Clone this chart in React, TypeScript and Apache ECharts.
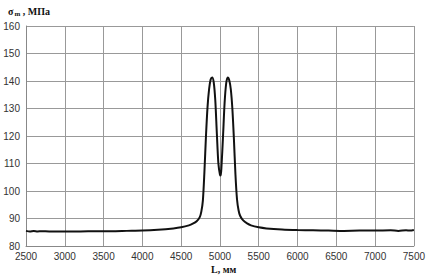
import React, { useEffect, useRef } from "react";
import * as echarts from "echarts";

const positions = [
  2500, 2550, 2600, 2650, 2700, 2800, 3000, 3200, 3400, 3600, 3800, 4000, 4200, 4400, 4500, 4600,
  4650, 4700, 4740, 4760, 4780, 4800, 4820, 4840, 4860, 4880, 4900, 4920, 4940, 4960, 4980,
  5000, 5010, 5020, 5040, 5060, 5080, 5100, 5120, 5140, 5160, 5180, 5200, 5220, 5240, 5260,
  5300, 5350, 5400, 5500, 5600, 5800, 6000, 6200, 6400, 6600, 6800, 7000, 7200, 7300, 7400, 7450, 7500,
];
const stress = [
  85.5, 85.3, 85.5, 85.3, 85.4, 85.3, 85.3, 85.3, 85.4, 85.4, 85.5, 85.6, 85.9, 86.4, 86.8, 87.5,
  88.1, 89.0, 90.5, 92.5, 96.5, 107, 120, 130.5, 137, 140.5, 141.3, 139.5, 133, 121, 110,
  106, 105.6, 109, 120, 132, 139, 141.3, 140.3, 137, 130, 119, 106, 97, 93, 91,
  89.3, 88.2, 87.5, 86.8, 86.4, 86.0, 85.8, 85.7, 85.6, 85.5, 85.6, 85.6, 85.7, 85.5, 85.7, 85.6, 85.8,
];
const xTicks = { min: 2500, max: 7500, interval: 500 };
const yTicks = { min: 80, max: 160, interval: 10 };

export default function App() {
  const ref = useRef<HTMLDivElement>(null);
  useEffect(() => {
    document.body.style.margin = "0";
    if (!ref.current) return;
    const chart = echarts.init(ref.current, null, { renderer: "svg" });
    const data = positions.map((x, i) => [x, stress[i]]);
    chart.setOption({
      animation: false,
      backgroundColor: "#fff",
      title: {
        text: "{s|σ}{sub|m}{s| , МПа}",
        left: 3,
        top: 1,
        textStyle: {
          rich: {
            s: { fontFamily: "Liberation Serif", fontWeight: "bold", fontSize: 10, color: "#111" },
            sub: { fontFamily: "Liberation Serif", fontWeight: "bold", fontSize: 7, color: "#111", verticalAlign: "bottom", padding: [4, 0, 0, 1] },
          },
        },
      },
      graphic: [
        {
          type: "text",
          left: 211,
          top: 264,
          style: { text: "L, мм", font: "bold 10px 'Liberation Serif'", fill: "#111" },
        },
      ],
      grid: { left: 26, right: 12, top: 26, bottom: 33, containLabel: false },
      xAxis: {
        type: "value",
        min: xTicks.min,
        max: xTicks.max,
        interval: xTicks.interval,
        axisLine: { show: true, lineStyle: { color: "#888", width: 1 } },
        axisTick: { show: false },
        axisLabel: { color: "#333", fontFamily: "Liberation Sans", fontSize: 10, margin: 5, formatter: (v: number) => String(v) },
        splitLine: { show: true, lineStyle: { color: "#999", width: 1 } },
      },
      yAxis: {
        type: "value",
        min: yTicks.min,
        max: yTicks.max,
        interval: yTicks.interval,
        axisLine: { show: true, lineStyle: { color: "#888", width: 1 } },
        axisTick: { show: false },
        axisLabel: { color: "#333", fontFamily: "Liberation Sans", fontSize: 10, margin: 6, formatter: (v: number) => String(v) },
        splitLine: { show: true, lineStyle: { color: "#999", width: 1 } },
      },
      series: [
        {
          type: "line",
          data,
          smooth: 0.3,
          showSymbol: false,
          lineStyle: { color: "#111", width: 2 },
        },
      ],
    });
    return () => chart.dispose();
  }, []);
  return <div ref={ref} style={{ width: 428, height: 279 }} />;
}
